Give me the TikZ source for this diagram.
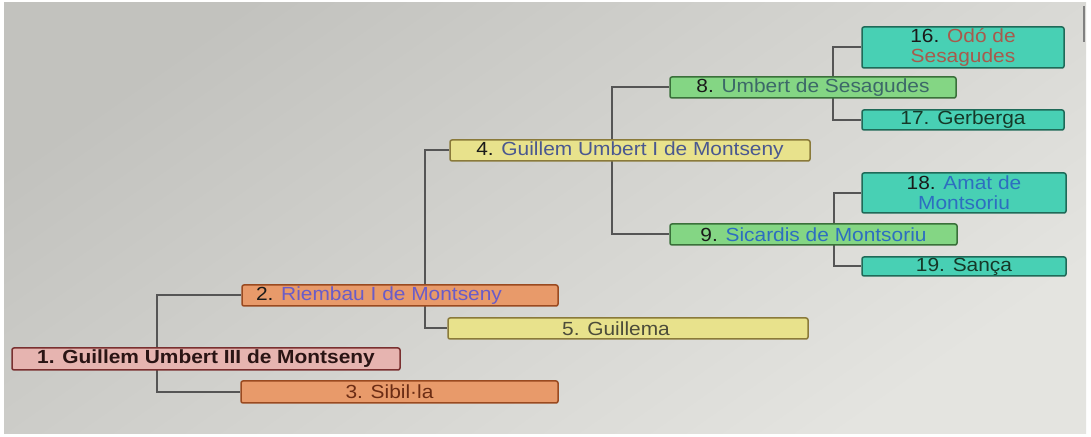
\documentclass[tikz,border=0pt]{standalone}
\usepackage{fontspec}
\setmainfont{Liberation Sans}[FakeStretch=1.1]
\usetikzlibrary{backgrounds}
\definecolor{bgA}{HTML}{C2C2BE}
\definecolor{bgB}{HTML}{E4E4E0}
\definecolor{connc}{HTML}{555555}
\definecolor{numc}{HTML}{1A1A1A}
\definecolor{tone}{HTML}{2A1414}
\definecolor{ttwo}{HTML}{6A5CC8}
\definecolor{tthree}{HTML}{6B2C14}
\definecolor{tfour}{HTML}{4A5890}
\definecolor{tfive}{HTML}{4C4C3A}
\definecolor{teight}{HTML}{3C6868}
\definecolor{tnine}{HTML}{2D6EC0}
\definecolor{tsixteen}{HTML}{A85A4C}
\definecolor{tdark}{HTML}{163828}
\definecolor{pinkF}{HTML}{E6B4B0}
\definecolor{pinkD}{HTML}{7A3030}
\definecolor{orangeF}{HTML}{E89A6A}
\definecolor{orangeD}{HTML}{9A4A20}
\definecolor{yellowF}{HTML}{E8E28C}
\definecolor{yellowD}{HTML}{8A7A3A}
\definecolor{greenF}{HTML}{84D684}
\definecolor{greenD}{HTML}{3A703A}
\definecolor{tealF}{HTML}{48D0B4}
\definecolor{tealD}{HTML}{1F6A58}
\begin{document}
\begin{tikzpicture}[x=0.5pt,y=-0.5pt,
  box/.style={draw, line width=0.75pt, rounded corners=1pt, inner sep=0pt, align=center,
    font=\fontsize{9.5}{10}\selectfont},
  boxbold/.style={box, font=\fontsize{9.5}{10}\selectfont\bfseries},
  pinkbox/.style={fill=pinkF, draw=pinkD},
  orangebox/.style={fill=orangeF, draw=orangeD},
  yellowbox/.style={fill=yellowF, draw=yellowD},
  greenbox/.style={fill=greenF, draw=greenD},
  tealbox/.style={fill=tealF, draw=tealD},
  conn/.style={draw=connc, line width=1pt}]
\useasboundingbox (0,0) rectangle (1091,437);

\node[boxbold, pinkbox, minimum width=194pt, minimum height=11pt] (n1) at (206,359)
  {\textcolor{tone}{1. Guillem Umbert III de Montseny}};
\node[box, orangebox, minimum width=158pt, minimum height=10.5pt] (n2) at (400,295.5)
  {\hspace*{-21pt}\textcolor{numc}{2.} \textcolor{ttwo}{Riembau I de Montseny}};
\node[box, orangebox, minimum width=158.5pt, minimum height=11pt] (n3) at (399.5,392)
  {\hspace*{-10pt}\textcolor{tthree}{3. Sibil·la}};
\node[box, yellowbox, minimum width=180pt, minimum height=10.5pt] (n4) at (630,150.5)
  {\textcolor{numc}{4.} \textcolor{tfour}{Guillem Umbert I de Montseny}};
\node[box, yellowbox, minimum width=180pt, minimum height=10.5pt] (n5) at (628,328.5)
  {\hspace*{-12pt}\textcolor{tfive}{5. Guillema}};
\node[box, greenbox, minimum width=143pt, minimum height=10.5pt] (n8) at (813,87.5)
  {\textcolor{numc}{8.} \textcolor{teight}{Umbert de Sesagudes}};
\node[box, greenbox, minimum width=143.5pt, minimum height=10.5pt] (n9) at (813.5,234.5)
  {\textcolor{numc}{9.} \textcolor{tnine}{Sicardis de Montsoriu}};
\node[box, tealbox, minimum width=101pt, minimum height=20.5pt] (n16) at (963,47.5)
  {\textcolor{numc}{16.} \textcolor{tsixteen}{Odó de}\\\textcolor{tsixteen}{Sesagudes}};
\node[box, tealbox, minimum width=101pt, minimum height=10pt] (n17) at (963,120)
  {\textcolor{tdark}{17. Gerberga}};
\node[box, tealbox, minimum width=102pt, minimum height=20pt] (n18) at (964,193)
  {\textcolor{numc}{18.} \textcolor{tnine}{Amat de}\\\textcolor{tnine}{Montsoriu}};
\node[box, tealbox, minimum width=102pt, minimum height=9.5pt] (n19) at (964,266.5)
  {\textcolor{tdark}{19. Sança}};

\begin{scope}[on background layer]
  \fill[white] (0,0) rectangle (1091,437);
  \shade[top color=bgA, bottom color=bgB, shading angle=35] (4,3) rectangle (1086,434);
  \draw[gray, line width=1pt] (1084,6) -- (1084,42);
  \coordinate (j1) at (157,359);
  \coordinate (j2) at (425,240);
  \coordinate (j4) at (612,190);
  \coordinate (j8) at (833,100);
  \coordinate (j9) at (834,230);
  \draw[conn] (n2.west) -| (j1) |- (n3.west);
  \draw[conn] (n4.west) -| (j2) |- (n5.west);
  \draw[conn] (n8.west) -| (j4) |- (n9.west);
  \draw[conn] (n16.west) -| (j8) |- (n17.west);
  \draw[conn] (n18.west) -| (j9) |- (n19.west);
\end{scope}
\end{tikzpicture}
\end{document}
